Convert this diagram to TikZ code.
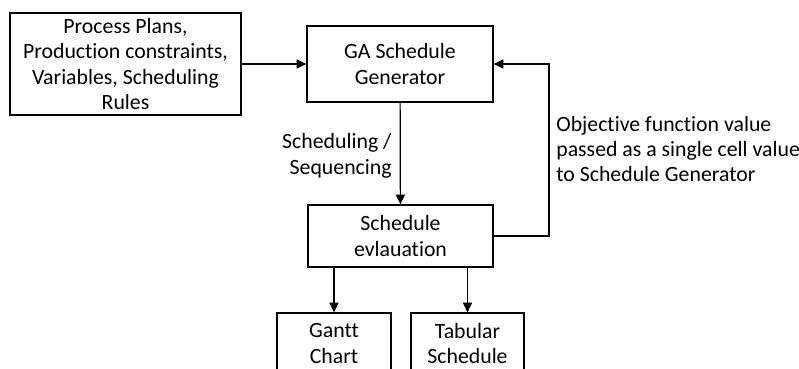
\documentclass[tikz,border=0pt]{standalone}
\usepackage{fontspec}
\setmainfont[Ligatures=NoCommon]{Carlito}
\usetikzlibrary{arrows.meta}

\tikzset{
  block/.style={draw,line width=0.7pt,align=center,inner sep=2pt,
    font=\fontsize{12.4}{14.5}\selectfont},
  lbl/.style={font=\fontsize{12.4}{14.5}\selectfont,inner sep=0pt},
  flow/.style={->,line width=0.7pt}
}

\begin{document}
\begin{tikzpicture}[x=0.02cm,y=-0.02cm,>={Triangle[length=5.6pt,width=5.2pt]}]
\useasboundingbox (0,0) rectangle (799,369);
\clip (0,0) rectangle (799,369);

\node[block,minimum width=231*0.02cm,minimum height=102*0.02cm] (inputs) at (125.5,64)
  {Process Plans,\\Production constraints,\\Variables, Scheduling\\Rules};
\node[block,minimum width=186*0.02cm,minimum height=76*0.02cm] (gen) at (400,64)
  {GA Schedule\\Generator};
\node[block,minimum width=185*0.02cm,minimum height=62*0.02cm] (eval) at (400.5,236)
  {Schedule\\evlauation};
\node[block,minimum width=114*0.02cm,minimum height=61*0.02cm] (gantt) at (334,343.5)
  {Gantt\\Chart};
\node[block,minimum width=113*0.02cm,minimum height=61*0.02cm] (tab) at (467.5,343.5)
  {Tabular\\Schedule};

\draw[flow] (inputs) -- (gen);
\draw[flow] (gen) -- (eval);
\draw[flow] (eval.south -| gantt) -- (gantt);
\draw[flow] (eval.south -| tab) -- (tab);

% feedback loop
\coordinate (turn) at (549,236);
\draw[flow] (eval.east) -- (turn) |- (gen.east);

\node[lbl,anchor=east,align=right] (seq) at (392,156) {Scheduling /\\Sequencing};
\node[lbl,anchor=west,align=left] (obj) at (556,149)
  {Objective function value\\passed as a single cell value\\to Schedule Generator};

\end{tikzpicture}
\end{document}
